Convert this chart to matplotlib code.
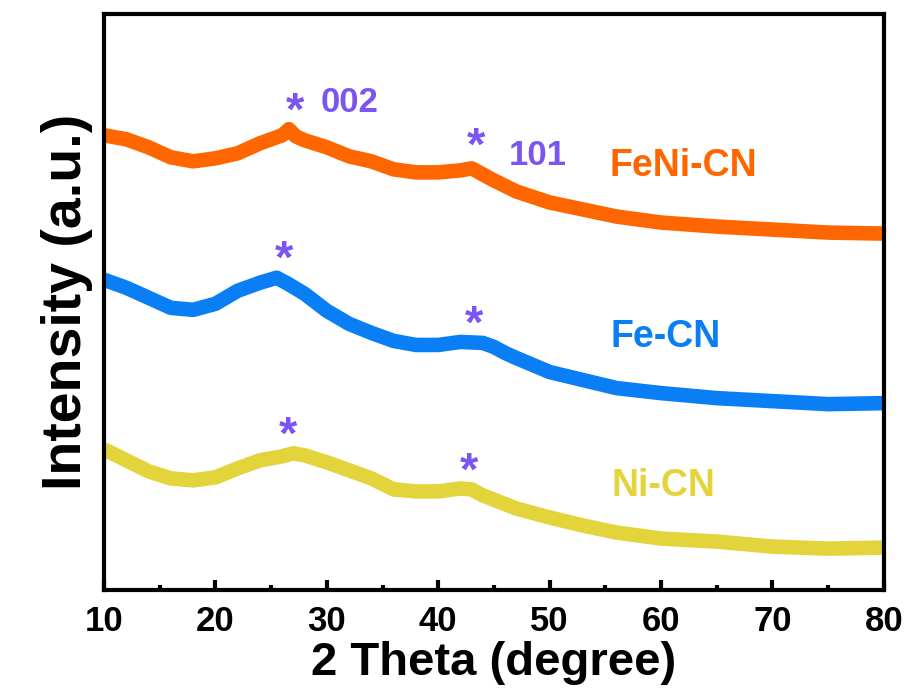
import matplotlib
matplotlib.use("Agg")
import matplotlib.pyplot as plt
from matplotlib.ticker import MultipleLocator

plt.rcParams['font.family'] = ['Liberation Sans', 'DejaVu Sans']
plt.rcParams['font.weight'] = 'bold'

# 2 theta (degree) and intensity (a.u.)
feni_x = [10, 12, 14, 16, 18, 20, 22, 24, 26, 26.6, 27.2, 28, 30, 32, 34, 36, 38, 40, 42, 43, 44, 45, 47, 50, 53, 56, 60, 65, 70, 75, 80]
feni_y = [453, 449, 441, 431, 427, 430, 435, 445, 453, 459, 452, 448, 441, 432, 427, 419, 416, 416, 418, 420, 414, 408, 397, 386, 379, 372, 366, 362, 359, 356, 355]

fe_x = [10, 12, 14, 16, 18, 20, 22, 24, 25.5, 26.5, 28, 30, 32, 34, 36, 38, 40, 42, 44, 45, 46, 47, 50, 53, 56, 60, 65, 70, 75, 80]
fe_y = [309, 301, 291, 281, 279, 285, 298, 306, 311, 305, 295, 278, 265, 256, 248, 244, 244, 247, 246, 242, 236, 231, 217, 209, 201, 196, 191, 188, 185, 186]

ni_x = [10, 12, 14, 16, 18, 20, 22, 24, 26, 27, 28, 30, 32, 34, 36, 38, 40, 42, 43, 44, 47, 50, 53, 56, 60, 65, 70, 75, 80]
ni_y = [140, 129, 118, 111, 109, 112, 121, 129, 133, 136, 134, 127, 119, 111, 100, 98, 98, 101, 100, 94, 81, 72, 64, 57, 51, 48, 43, 41, 42]

series = [
    ('FeNi-CN', feni_x, feni_y, '#FF6600'),
    ('Fe-CN', fe_x, fe_y, '#0A7EF5'),
    ('Ni-CN', ni_x, ni_y, '#E3D43C'),
]

# sample labels (x, y) and peak marks
label_pos = {'FeNi-CN': (62.0, 422), 'Fe-CN': (60.4, 252), 'Ni-CN': (60.2, 103)}
star_pos = [(27.15, 475), (43.4, 441), (26.2, 328), (43.2, 263), (26.5, 153), (42.8, 117)]
hkl_labels = [('002', 32.0, 486), ('101', 48.9, 433)]
purple = '#7B55F2'

fig = plt.figure(figsize=(9.1, 6.93), dpi=100)
ax = fig.add_axes([0.1143, 0.149, 0.857, 0.831])

for name, xs, ys, c in series:
    ax.plot(xs, ys, color=c, lw=10.5, solid_joinstyle='round', solid_capstyle='butt')
    lx, ly = label_pos[name]
    ax.text(lx, ly, name, color=c, fontsize=27, fontweight='bold', ha='center', va='center')

for sx, sy in star_pos:
    ax.text(sx, sy, '*', color=purple, fontsize=34, fontweight='bold', ha='center', va='center')
for t, tx, ty in hkl_labels:
    ax.text(tx, ty, t, color=purple, fontsize=25, fontweight='bold', ha='center', va='center')

ax.set_xlim(10, 80)
ax.set_ylim(0, 574)
ax.xaxis.set_major_locator(MultipleLocator(10))
ax.xaxis.set_minor_locator(MultipleLocator(5))
ax.set_yticks([])
ax.tick_params(axis='x', which='major', direction='in', length=7, width=3, labelsize=25, pad=11)
ax.tick_params(axis='x', which='minor', direction='in', length=3.5, width=3)
for lab in ax.get_xticklabels():
    lab.set_fontweight('bold')
for s in ax.spines.values():
    s.set_linewidth(3)

ax.set_xlabel('2 Theta (degree)', fontsize=34, fontweight='bold', labelpad=2)
ax.set_ylabel('Intensity (a.u.)', fontsize=40, fontweight='bold', labelpad=8)

fig.savefig('out.png', dpi=100)
